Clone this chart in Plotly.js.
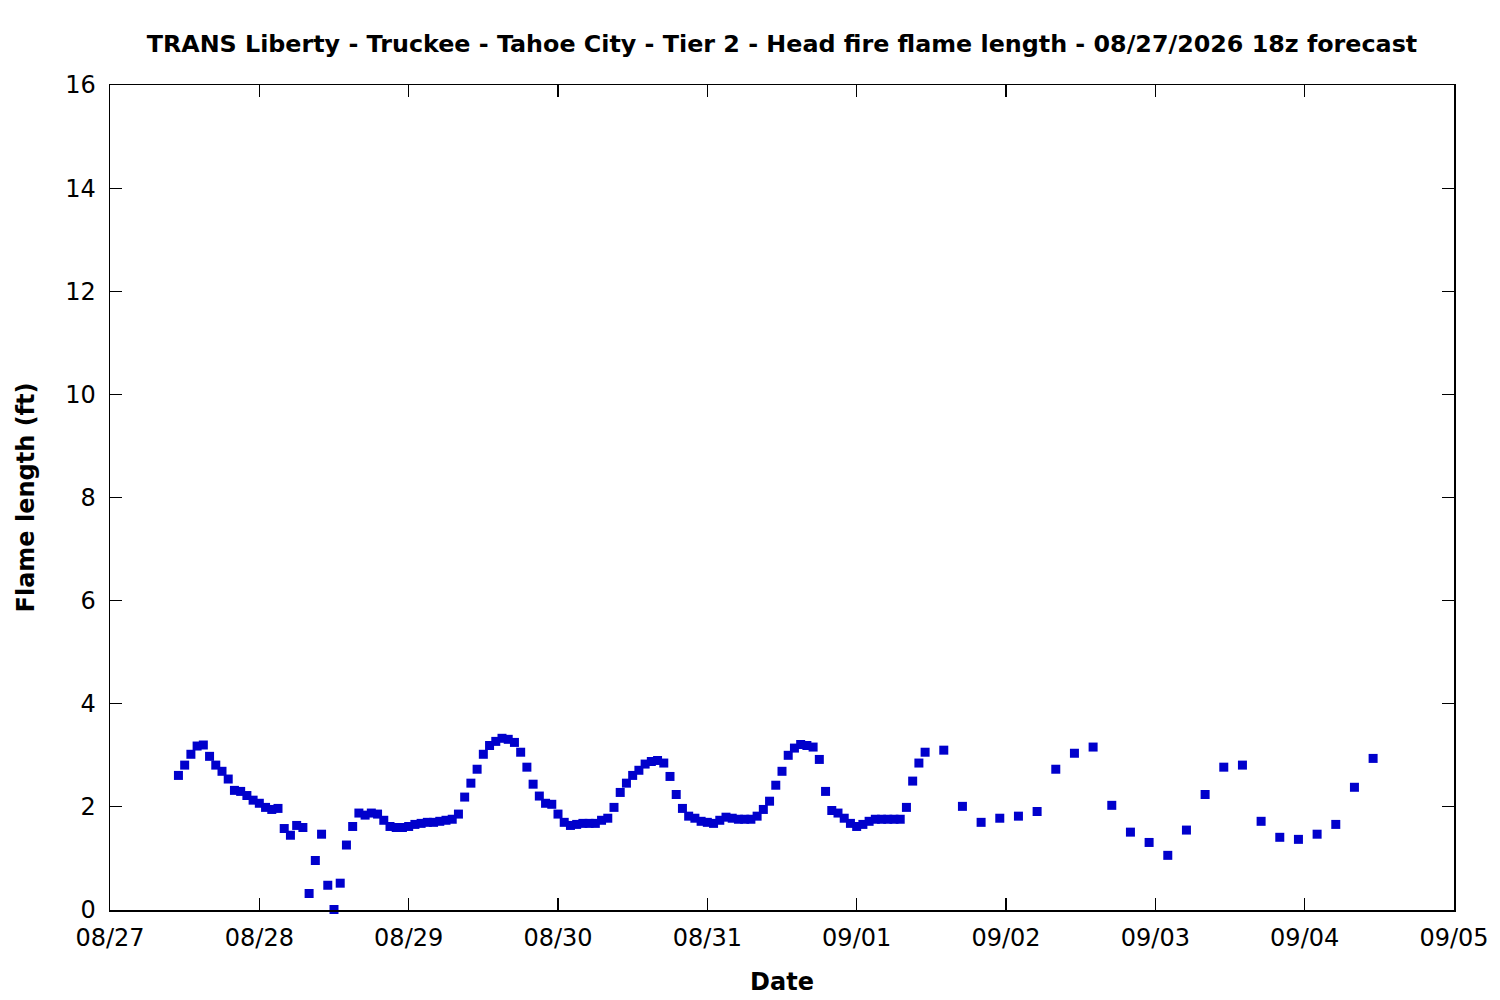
<!DOCTYPE html>
<html>
<head>
<meta charset="utf-8">
<script src="https://cdn.plot.ly/plotly-3.0.1.min.js"></script>
<style>html,body{margin:0;padding:0;background:#fff;}</style>
</head>
<body>
<div id="chart" style="width:1500px;height:1000px;"></div>
<script>
// Hourly forecast, starting 2026-08-27 11:00, one value per hour
const hourlyStart = '2026-08-27T11:00:00Z';
const hourlyFlame = [
  2.61, 2.81, 3.02, 3.18, 3.20, 2.98, 2.81, 2.69, 2.54, 2.32, 2.30, 2.22, 2.13, 2.07, 1.99, 1.95, 1.97,
  1.58, 1.45, 1.64, 1.60, 0.32, 0.96, 1.47, 0.48, 0.01, 0.52, 1.26, 1.62, 1.88, 1.84, 1.88, 1.86,
  1.74, 1.62, 1.60, 1.60, 1.62, 1.66, 1.68, 1.70, 1.70, 1.72, 1.74, 1.76, 1.86, 2.19, 2.46, 2.73,
  3.02, 3.19, 3.27, 3.33, 3.31, 3.25, 3.06, 2.77, 2.44, 2.21, 2.07, 2.05, 1.86, 1.70, 1.64, 1.66,
  1.68, 1.68, 1.68, 1.74, 1.78, 1.99, 2.28, 2.46, 2.61, 2.71, 2.83, 2.88, 2.90, 2.85, 2.59, 2.24,
  1.97, 1.82, 1.78, 1.72, 1.70, 1.68, 1.74, 1.80, 1.78, 1.76, 1.76, 1.76, 1.82, 1.95, 2.11, 2.42,
  2.69, 3.00, 3.14, 3.21, 3.19, 3.16, 2.92, 2.30, 1.93, 1.88, 1.78, 1.68, 1.62, 1.66, 1.72, 1.76,
  1.76, 1.76, 1.76, 1.76, 1.99, 2.50, 2.85, 3.06
];
// 3-hourly forecast, starting 2026-09-01 14:00
const threeHourlyStart = '2026-09-01T14:00:00Z';
const threeHourlyFlame = [
  3.10, 2.01, 1.70, 1.78, 1.82, 1.91, 2.73, 3.04, 3.16, 2.03, 1.51, 1.31,
  1.06, 1.55, 2.24, 2.77, 2.81, 1.72, 1.41, 1.37, 1.47, 1.66, 2.38, 2.94
];
const tickDates = ['2026-08-27','2026-08-28','2026-08-29','2026-08-30','2026-08-31','2026-09-01','2026-09-02','2026-09-03','2026-09-04','2026-09-05'];
const tickLabels = ['08/27','08/28','08/29','08/30','08/31','09/01','09/02','09/03','09/04','09/05'];
const yTicks = [0, 2, 4, 6, 8, 10, 12, 14, 16];

function stamps(start, n, stepHours) {
  const t0 = Date.parse(start);
  const out = [];
  for (let i = 0; i < n; i++) {
    out.push(new Date(t0 + i * stepHours * 3600000).toISOString().slice(0, 16).replace('T', ' '));
  }
  return out;
}
const x = stamps(hourlyStart, hourlyFlame.length, 1).concat(stamps(threeHourlyStart, threeHourlyFlame.length, 3));
const y = hourlyFlame.concat(threeHourlyFlame);

const font = 'DejaVu Sans, sans-serif';
const trace = {
  type: 'scatter', mode: 'markers', x: x, y: y,
  marker: {symbol: 'square', size: 9, color: '#0000cc'},
  cliponaxis: false, showlegend: false, hoverinfo: 'x+y'
};
const layout = {
  width: 1500, height: 1000,
  margin: {l: 110, r: 46, t: 85, b: 90},
  paper_bgcolor: '#fff', plot_bgcolor: '#fff',
  font: {family: font, size: 24, color: '#000'},
  title: {text: '<b>TRANS Liberty - Truckee - Tahoe City - Tier 2 - Head fire flame length - 08/27/2026 18z forecast</b>',
          font: {family: font, size: 23.8, color: '#000'}, x: 0.5213, xanchor: 'center', y: 0.956, yanchor: 'middle'},
  xaxis: {
    type: 'date', range: ['2026-08-27', '2026-09-05'],
    tickvals: tickDates, ticktext: tickLabels,
    ticks: 'inside', ticklen: 12, tickwidth: 1.2, tickcolor: '#000',
    showline: true, linecolor: '#000', linewidth: 1.5, mirror: 'ticks',
    showgrid: false, zeroline: false, ticklabelstandoff: 6,
    tickfont: {family: font, size: 24, color: '#000'},
    title: {text: '<b>Date</b>', font: {family: font, size: 24, color: '#000'}, standoff: 22}
  },
  yaxis: {
    range: [0, 16], tickvals: yTicks, ticktext: yTicks.map(String),
    ticks: 'inside', ticklen: 12, tickwidth: 1.2, tickcolor: '#000',
    showline: true, linecolor: '#000', linewidth: 1.5, mirror: 'ticks',
    showgrid: false, zeroline: false, ticklabelstandoff: 8,
    tickfont: {family: font, size: 24, color: '#000'},
    title: {text: '<b>Flame length (ft)</b>', font: {family: font, size: 24, color: '#000'}, standoff: 24}
  }
};
Plotly.newPlot('chart', [trace], layout, {displayModeBar: false, staticPlot: true});
</script>
</body>
</html>
